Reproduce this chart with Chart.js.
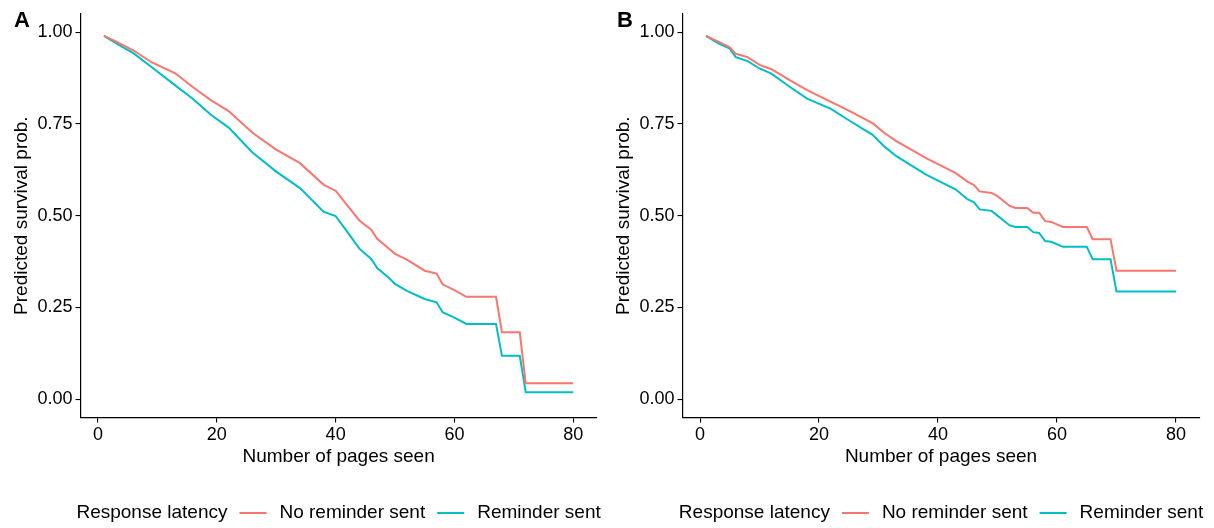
<!DOCTYPE html>
<html>
<head>
<meta charset="utf-8">
<script src="https://cdn.jsdelivr.net/npm/chart.js@4"></script>
<style>
  body { margin: 0; background: #fff; }
  #wrap { position: relative; width: 1214px; height: 528px; }
  .panel { position: absolute; top: 0; height: 528px; }
</style>
</head>
<body>
<div id="wrap">
  <div class="panel" style="left:0;width:602px"><canvas id="chartA" width="602" height="528"></canvas></div>
  <div class="panel" style="left:602px;width:612px"><canvas id="chartB" width="612" height="528"></canvas></div>
</div>
<script>
// series labels
const seriesLabels = ['No reminder sent', 'Reminder sent'];
const legendTitle = 'Response latency';
const xTicks = [0, 20, 40, 60, 80];
const yTicks = [0, 0.25, 0.5, 0.75, 1];

// panel A
const pagesA = [1, 3, 6, 9, 13, 16, 19, 22, 26, 30, 34, 38, 40, 42, 44, 46, 47, 49, 50, 52, 55, 57, 58, 60, 62, 67, 68, 71, 72, 80];
const noReminderA = [0.99, 0.975, 0.95, 0.918, 0.888, 0.85, 0.815, 0.785, 0.726, 0.68, 0.643, 0.584, 0.568, 0.527, 0.487, 0.462, 0.437, 0.41, 0.396, 0.38, 0.35, 0.342, 0.313, 0.297, 0.279, 0.279, 0.182, 0.182, 0.043, 0.043];
const reminderA = [0.99, 0.97, 0.942, 0.905, 0.855, 0.818, 0.775, 0.74, 0.672, 0.62, 0.575, 0.51, 0.499, 0.455, 0.41, 0.382, 0.357, 0.33, 0.314, 0.295, 0.273, 0.264, 0.237, 0.222, 0.205, 0.205, 0.118, 0.118, 0.019, 0.019];

// panel B
const pagesB = [1, 3, 5, 6, 8, 10, 12, 15, 18, 22, 25, 29, 31, 33, 38, 43, 45, 46, 47, 49, 50, 52, 53, 55, 56, 57, 58, 59, 61, 65, 66, 69, 70, 80];
const noReminderB = [0.99, 0.975, 0.959, 0.941, 0.932, 0.911, 0.899, 0.87, 0.842, 0.81, 0.786, 0.752, 0.725, 0.703, 0.657, 0.616, 0.592, 0.584, 0.566, 0.562, 0.553, 0.527, 0.521, 0.521, 0.508, 0.508, 0.485, 0.483, 0.469, 0.469, 0.436, 0.436, 0.35, 0.35];
const reminderB = [0.99, 0.97, 0.955, 0.932, 0.921, 0.901, 0.887, 0.852, 0.819, 0.791, 0.76, 0.72, 0.688, 0.662, 0.612, 0.571, 0.544, 0.537, 0.517, 0.513, 0.5, 0.474, 0.469, 0.469, 0.455, 0.453, 0.431, 0.429, 0.415, 0.415, 0.381, 0.381, 0.293, 0.293];

const colors = ['#F8766D', '#00BFC4'];
const FONT = '"Liberation Sans", Arial, Helvetica, sans-serif';

// tag letter + ggplot-style legend row under the panel
const extras = {
  id: 'extras',
  afterDraw(chart, args, opts) {
    const ctx = chart.ctx;
    const area = chart.chartArea;
    ctx.save();
    ctx.fillStyle = '#000';
    ctx.textBaseline = 'middle';
    ctx.textAlign = 'left';
    ctx.font = 'bold 22px ' + FONT;
    ctx.fillText(opts.tag, opts.tagX, 21);

    ctx.font = '19px ' + FONT;
    const sets = chart.data.datasets;
    let total = ctx.measureText(legendTitle).width;
    sets.forEach(d => { total += 12 + 27 + 13 + ctx.measureText(d.label).width; });
    let x = (area.left + area.right) / 2 - total / 2;
    const y = 513;
    ctx.fillText(legendTitle, x, y);
    x += ctx.measureText(legendTitle).width;
    sets.forEach(d => {
      x += 12;
      ctx.strokeStyle = d.borderColor;
      ctx.lineWidth = 2;
      ctx.beginPath();
      ctx.moveTo(x, y);
      ctx.lineTo(x + 27, y);
      ctx.stroke();
      x += 27 + 13;
      ctx.fillStyle = '#000';
      ctx.fillText(d.label, x, y);
      x += ctx.measureText(d.label).width;
    });
    ctx.restore();
  }
};

function makePanel(id, tag, tagX, rightPad, pages, s1, s2) {
  const pts = (vals) => pages.map((p, i) => ({ x: p, y: vals[i] }));
  return new Chart(document.getElementById(id), {
    type: 'line',
    data: {
      datasets: [
        { label: seriesLabels[0], data: pts(s1), borderColor: colors[0], borderWidth: 2, pointRadius: 0, tension: 0, fill: false },
        { label: seriesLabels[1], data: pts(s2), borderColor: colors[1], borderWidth: 2, pointRadius: 0, tension: 0, fill: false }
      ]
    },
    options: {
      responsive: false,
      animation: false,
      layout: { padding: { top: 11.5, right: rightPad, bottom: 50.5, left: 0 } },
      plugins: {
        legend: { display: false },
        tooltip: { enabled: false },
        extras: { tag: tag, tagX: tagX }
      },
      scales: {
        x: {
          type: 'linear',
          min: -2.95,
          max: 83.95,
          afterBuildTicks: s => { s.ticks = xTicks.map(v => ({ value: v })); },
          afterFit: s => { s.height = 60; },
          ticks: { color: '#000', font: { size: 18, family: FONT }, padding: 2, maxRotation: 0 },
          grid: { drawOnChartArea: false, drawTicks: true, tickLength: 5, color: '#000', lineWidth: 1.1 },
          border: { display: true, color: '#000', width: 1.2 },
          title: { display: true, text: 'Number of pages seen', color: '#000', font: { size: 19, family: FONT }, padding: { top: 0, bottom: 9 } }
        },
        y: {
          min: -0.05,
          max: 1.05,
          afterBuildTicks: s => { s.ticks = yTicks.map(v => ({ value: v })); },
          afterFit: s => { s.width = 80.5; },
          ticks: { color: '#000', font: { size: 18, family: FONT }, padding: 3, callback: v => v.toFixed(2) },
          grid: { drawOnChartArea: false, drawTicks: true, tickLength: 5, color: '#000', lineWidth: 1.1 },
          border: { display: true, color: '#000', width: 1.2 },
          title: { display: true, text: 'Predicted survival prob.', color: '#000', font: { size: 19, family: FONT }, padding: { top: 10.5, bottom: 0 } }
        }
      }
    },
    plugins: [extras]
  });
}

makePanel('chartA', 'A', 14, 5.3, pagesA, noReminderA, reminderA);
makePanel('chartB', 'B', 15, 14.5, pagesB, noReminderB, reminderB);
</script>
</body>
</html>
